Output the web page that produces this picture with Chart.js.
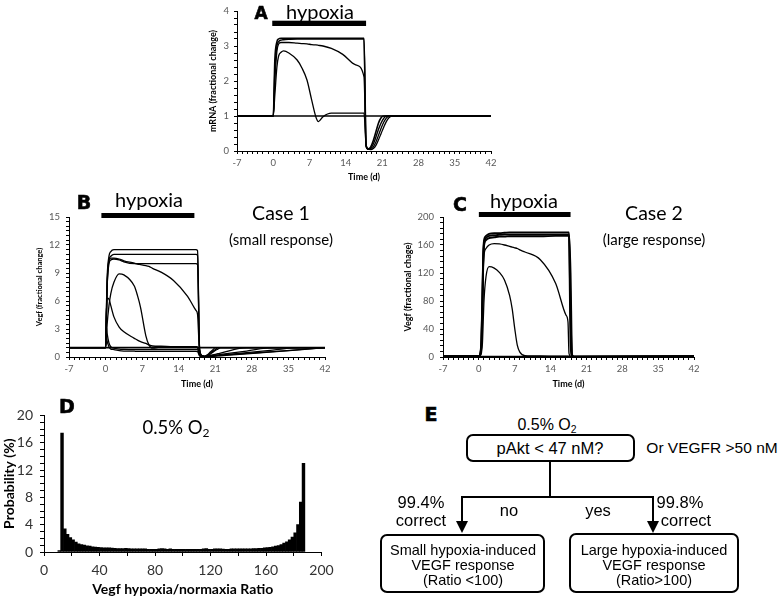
<!DOCTYPE html>
<html>
<head>
<meta charset="utf-8">
<script src="https://cdn.jsdelivr.net/npm/chart.js@4.4.0/dist/chart.umd.min.js"></script>
<style>
body { margin: 0; background: #fff; }
#page { position: relative; width: 778px; height: 598px; overflow: hidden; font-family: Lato, sans-serif; }
canvas { position: absolute; }
.t { position: absolute; transform: translate(-50%, -50%); white-space: nowrap; color: #000; line-height: 1; }
.lt { font-family: "DejaVu Sans", sans-serif; font-weight: 900; font-size: 19px; -webkit-text-stroke: 0.6px #000; }
.ar { font-family: "Liberation Sans", Arial, sans-serif; }
.box { position: absolute; box-sizing: border-box; border: 2px solid #000; border-radius: 7px; }
sub { font-size: 0.65em; vertical-align: -0.25em; }
</style>
</head>
<body>
<div id="page">
  <canvas id="chartA" width="310" height="185" style="left:195px;top:0px"></canvas>
  <canvas id="chartB" width="320" height="190" style="left:20px;top:200px"></canvas>
  <canvas id="chartC" width="320" height="190" style="left:390px;top:200px"></canvas>
  <canvas id="chartD" width="340" height="198" style="left:0px;top:400px"></canvas>

  <div class="t lt" style="left:261px;top:13px;font-size:17px">A</div>
  <div class="t" style="left:320px;top:11px;font-size:20px">hypoxia</div>

  <div class="t lt" style="left:84px;top:202px">B</div>
  <div class="t" style="left:149px;top:199px;font-size:20px">hypoxia</div>
  <div class="t" style="left:281px;top:213px;font-size:19.5px">Case 1</div>
  <div class="t" style="left:281px;top:239px;font-size:15px">(small response)</div>

  <div class="t lt" style="left:460px;top:204px">C</div>
  <div class="t" style="left:524px;top:200px;font-size:20px">hypoxia</div>
  <div class="t" style="left:654px;top:213px;font-size:19.5px">Case 2</div>
  <div class="t" style="left:654px;top:239px;font-size:15px">(large response)</div>

  <div class="t lt" style="left:67px;top:406px">D</div>
  <div class="t" style="left:176px;top:429px;font-size:18.5px">0.5% O<sub>2</sub></div>

  <div class="t lt" style="left:431px;top:414px">E</div>
  <div class="t ar" style="left:547px;top:426px;font-size:16px">0.5% O<sub>2</sub></div>
  <div class="box" style="left:466px;top:434px;width:169px;height:28px"></div>
  <div class="t ar" style="left:550px;top:448px;font-size:16.5px">pAkt &lt; 47 nM?</div>
  <div class="t ar" style="left:712px;top:448px;font-size:15.5px">Or VEGFR &gt;50 nM</div>
  <svg style="position:absolute;left:0;top:0" width="778" height="598">
    <g stroke="#000" stroke-width="2" fill="none">
      <line x1="550" y1="462" x2="550" y2="497"/>
      <line x1="461" y1="497" x2="654" y2="497"/>
      <line x1="462" y1="496" x2="462" y2="522"/>
      <line x1="653" y1="496" x2="653" y2="522"/>
    </g>
    <polygon points="456,521 468,521 462,533" fill="#000"/>
    <polygon points="647,521 659,521 653,533" fill="#000"/>
  </svg>
  <div class="t ar" style="left:421px;top:502px;font-size:16.5px">99.4%</div>
  <div class="t ar" style="left:421px;top:520px;font-size:16.5px">correct</div>
  <div class="t ar" style="left:509px;top:510px;font-size:16.5px">no</div>
  <div class="t ar" style="left:598px;top:510px;font-size:16.5px">yes</div>
  <div class="t ar" style="left:680px;top:502px;font-size:16.5px">99.8%</div>
  <div class="t ar" style="left:686px;top:520px;font-size:16.5px">correct</div>
  <div class="box" style="left:380px;top:534px;width:165px;height:59px"></div>
  <div class="t ar" style="left:463px;top:550px;font-size:14.5px">Small hypoxia-induced</div>
  <div class="t ar" style="left:463px;top:565px;font-size:14.5px">VEGF response</div>
  <div class="t ar" style="left:463px;top:580px;font-size:14.5px">(Ratio &lt;100)</div>
  <div class="box" style="left:569px;top:533px;width:170px;height:60px"></div>
  <div class="t ar" style="left:654px;top:550px;font-size:14.5px">Large hypoxia-induced</div>
  <div class="t ar" style="left:654px;top:565px;font-size:14.5px">VEGF response</div>
  <div class="t ar" style="left:654px;top:580px;font-size:14.5px">(Ratio&gt;100)</div>
</div>
<script>
// ---- panel A: mRNA fractional change vs time (d) ----
var tA = [-7, 0, 0.3, 0.7, 1, 1.5, 2, 3, 4.6, 5.5, 6.5, 7.4, 8.2, 8.7, 9.6, 11.2, 13.4, 15.9, 17.5, 17.9, 18.3, 18.8, 19.3, 19.8, 20.3, 20.8, 21.3, 21.8, 22.3, 22.8, 23.3, 42];
var mrna1 = [1, 1, 2.6, 3.12, 3.2, 3.22, 3.22, 3.22, 3.22, 3.22, 3.22, 3.22, 3.22, 3.22, 3.22, 3.22, 3.22, 3.22, 3.22, 0.15, 0.06, 0.12, 0.3, 0.55, 0.8, 0.95, 1, 1, 1, 1, 1, 1];
var mrna2 = [1, 1, 2.3, 3.0, 3.12, 3.17, 3.18, 3.19, 3.2, 3.2, 3.2, 3.2, 3.2, 3.2, 3.2, 3.2, 3.2, 3.2, 3.2, 0.15, 0.05, 0.08, 0.2, 0.4, 0.62, 0.8, 0.93, 1, 1, 1, 1, 1];
var mrna3 = [1, 1, 2.0, 2.85, 3.05, 3.1, 3.1, 3.1, 3.08, 3.07, 3.06, 3.04, 3.03, 3.02, 3.0, 2.93, 2.76, 2.46, 2.12, 0.18, 0.05, 0.05, 0.12, 0.26, 0.45, 0.65, 0.82, 0.94, 1, 1, 1, 1];
var mrna4 = [1, 1, 1.6, 2.4, 2.7, 2.82, 2.86, 2.8, 2.6, 2.38, 2.03, 1.46, 0.98, 0.84, 0.98, 1.08, 1.08, 1.08, 1.08, 0.18, 0.05, 0.04, 0.07, 0.16, 0.32, 0.5, 0.68, 0.84, 0.95, 1, 1, 1];

// ---- panel B: Vegf, case 1 (small response) ----
var tB = [-7, 0, 0.15, 0.3, 0.65, 1, 1.6, 2.6, 3.5, 5.5, 6.1, 6.7, 7.7, 8.3, 9, 10.6, 13, 15.7, 17.3, 17.6, 18, 18.5, 19, 19.5, 20, 20.5, 21, 21.5, 22, 27, 32, 37, 42];
var vegfB1 = [1, 1, 5, 8.5, 10.8, 11.3, 11.5, 11.5, 11.5, 11.5, 11.5, 11.5, 11.5, 11.5, 11.5, 11.5, 11.5, 11.5, 11.5, 11.4, 0.8, 0.15, 0.1, 0.25, 0.5, 0.75, 1, 1, 1, 1, 1, 1, 1];
var vegfB2 = [1, 1, 4.5, 8, 10.4, 10.8, 11.0, 11.0, 11.0, 11.0, 11.0, 11.0, 11.0, 11.0, 11.0, 11.0, 11.0, 11.0, 11.0, 10.9, 0.8, 0.12, 0.08, 0.2, 0.4, 0.6, 0.8, 1, 1, 1, 1, 1, 1];
var vegfB3 = [1, 1, 4, 7.5, 10, 10.4, 10.5, 10.4, 10.2, 10.0, 10.0, 10.0, 10.0, 10.0, 10.0, 10.0, 10.0, 10.0, 10.0, 9.9, 0.8, 0.1, 0.05, 0.12, 0.3, 0.5, 0.7, 0.85, 1, 1, 1, 1, 1];
var vegfB4 = [1, 1, 4, 7.5, 10.3, 10.6, 10.6, 10.5, 10.3, 10.05, 9.95, 9.9, 9.8, 9.7, 9.5, 9.1, 8.2, 6.5, 5.0, 4.6, 0.5, 0.1, 0.05, 0.11, 0.17, 0.23, 0.29, 0.35, 0.41, 1, 1, 1, 1];
var vegfB5 = [1, 1, 2, 3.5, 5.5, 6.8, 8.0, 8.9, 8.8, 7.6, 6.6, 5.3, 2.3, 1.3, 0.95, 1.08, 1.1, 1.1, 1.1, 1.05, 0.3, 0.08, 0.05, 0.09, 0.12, 0.16, 0.2, 0.23, 0.27, 0.64, 1, 1, 1];
var vegfB6 = [1, 1, 4.5, 6.3, 6.2, 5.5, 4.3, 3.2, 2.7, 2.0, 1.8, 1.65, 1.45, 1.3, 1.18, 1.15, 1.1, 1.1, 1.1, 1.05, 0.3, 0.08, 0.05, 0.08, 0.1, 0.13, 0.16, 0.18, 0.21, 0.47, 0.74, 1, 1];
var vegfB7 = [1, 1, 3.2, 2.5, 1.5, 1.1, 0.95, 0.85, 0.82, 0.8, 0.8, 0.8, 0.8, 0.8, 0.8, 0.8, 0.8, 0.8, 0.8, 0.78, 0.2, 0.06, 0.04, 0.06, 0.08, 0.1, 0.12, 0.15, 0.17, 0.38, 0.58, 0.79, 1];
var vegfB8 = [1, 1, 2.2, 1.7, 1.1, 0.85, 0.8, 0.68, 0.64, 0.62, 0.6, 0.6, 0.6, 0.6, 0.6, 0.6, 0.6, 0.6, 0.6, 0.58, 0.1, 0.03, 0.02, 0.03, 0.05, 0.07, 0.09, 0.11, 0.13, 0.33, 0.54, 0.76, 1];

// ---- panel C: Vegf, case 2 (large response) ----
var tC = [-7, 0, 0.3, 0.5, 0.7, 0.85, 1, 1.4, 2, 3, 4, 5, 6, 6.5, 7, 7.5, 8, 9, 12, 15, 17, 17.4, 17.6, 17.9, 18.2, 18.6, 42];
var vegfC1 = [1, 1, 6, 25, 90, 145, 166, 173, 176, 177, 177, 177.5, 178, 178, 178, 178, 178, 178, 178, 178, 178, 178, 178, 120, 3, 0.5, 1];
var vegfC2 = [1, 1, 5, 22, 85, 140, 162, 170, 173, 174, 174.5, 175, 175, 175, 175, 175, 175, 175, 175, 175, 175, 175, 175, 60, 1, 0.5, 1];
var vegfC3 = [1, 1, 4, 18, 75, 132, 158, 167, 170, 171, 172, 172, 172.5, 172.5, 172.5, 172.5, 172.5, 172.5, 172.5, 173, 173, 173, 172, 20, 1, 0.5, 1];
var vegfC4 = [1, 1, 4, 16, 65, 120, 145, 155, 160, 162, 161.5, 160, 158, 157, 156, 155, 153, 150, 139, 105, 60, 50, 5, 1, 0.5, 0.5, 1];
var vegfC5 = [1, 1, 2, 6, 20, 50, 80, 115, 129, 127, 121, 110, 88, 69, 41, 17, 7, 2, 1.5, 1.2, 1.1, 1.1, 1, 0.5, 0.3, 0.3, 1];

// normoxic baseline and hypoxia periods (days)
var baseDays = [-7, 42];
var baseLevel = [1, 1];
var hypoxiaA = [-0.2, 17.9];
var hypoxiaB = [-0.8, 17];
var hypoxiaC = [0, 17.9];

// ---- panel D: histogram of Vegf hypoxia/normoxia ratio ----
var ratioBins = [11, 13, 15, 17, 19, 21, 23, 25, 27, 29, 31, 33, 35, 37, 39, 41, 43, 45, 47, 49,
    51, 53, 55, 57, 59, 61, 63, 65, 67, 69, 71, 73, 75, 77, 79, 81, 83, 85, 87, 89,
    91, 93, 95, 97, 99, 101, 103, 105, 107, 109, 111, 113, 115, 117, 119, 121, 123, 125, 127, 129,
    131, 133, 135, 137, 139, 141, 143, 145, 147, 149, 151, 153, 155, 157, 159, 161, 163, 165, 167, 169,
    171, 173, 175, 177, 179, 181, 183, 185, 187];
var probability = [0.2, 17.4, 3.4, 2.6, 2.1, 1.8, 1.45, 1.2, 1.1, 1.0,
    0.9, 0.85, 0.75, 0.72, 0.7, 0.65, 0.62, 0.6, 0.6, 0.58,
    0.55, 0.5, 0.5, 0.5, 0.55, 0.5, 0.48, 0.48, 0.48, 0.45,
    0.45, 0.45, 0.4, 0.4, 0.4, 0.4, 0.45, 0.5, 0.45, 0.4,
    0.45, 0.4, 0.4, 0.4, 0.4, 0.4, 0.4, 0.4, 0.4, 0.4,
    0.4, 0.4, 0.45, 0.5, 0.4, 0.4, 0.45, 0.45, 0.45, 0.42,
    0.4, 0.4, 0.45, 0.45, 0.45, 0.45, 0.45, 0.45, 0.45, 0.45,
    0.5, 0.5, 0.55, 0.55, 0.6, 0.65, 0.7, 0.75, 0.85, 0.95,
    1.1, 1.3, 1.5, 1.8, 2.2, 2.8, 4.0, 7.3, 13.0];

Chart.defaults.font.family = 'Lato, sans-serif';
Chart.defaults.animation = false;

function pts(t, v) {
    var out = [];
    for (var i = 0; i < t.length; i++) {
        out.push({ x: t[i], y: v[i] });
    }
    return out;
}

function curve(t, v, w) {
    return {
        data: pts(t, v),
        borderColor: '#000',
        borderWidth: w || 1.3,
        pointRadius: 0,
        fill: false,
        cubicInterpolationMode: 'monotone'
    };
}

function axis(o) {
    return {
        type: 'linear',
        min: o.min,
        max: o.max,
        offset: false,
        border: { display: true, color: '#000', width: 1 },
        grid: { display: true, drawOnChartArea: false, drawTicks: true, tickLength: o.tick || 3, color: '#000', offset: false },
        ticks: {
            stepSize: o.step,
            autoSkip: false,
            maxRotation: 0,
            padding: o.pad,
            color: o.color || '#595959',
            font: { size: o.font || 9.5 },
            callback: function (v) {
                var r = Math.abs(v / o.every - Math.round(v / o.every));
                return r < 1e-6 ? v : '';
            }
        },
        title: {
            display: true,
            text: o.title,
            color: '#000',
            font: { size: o.titleFont || 9, weight: 'bold' },
            padding: { top: o.titleTop || 0, bottom: o.titleBottom || 0 }
        },
        afterFit: function (s) {
            if (s.isHorizontal()) {
                s.height = o.size;
            } else {
                s.width = o.size;
            }
        }
    };
}

var hypoxiaBarPlugin = {
    id: 'hypoxiaBar',
    afterDatasetsDraw: function (chart, args, opts) {
        if (!opts || !opts.days) return;
        var x = chart.scales.x;
        var ctx = chart.ctx;
        var x0 = x.getPixelForValue(opts.days[0]);
        var x1 = x.getPixelForValue(opts.days[1]);
        ctx.save();
        ctx.fillStyle = '#000';
        ctx.fillRect(x0, chart.chartArea.top + opts.dy, x1 - x0, opts.h);
        ctx.restore();
    }
};

function timeChart(id, sets, xOpt, yOpt, hyp, pad) {
    return new Chart(document.getElementById(id), {
        type: 'line',
        data: { datasets: sets },
        plugins: [hypoxiaBarPlugin],
        options: {
            responsive: false,
            events: [],
            layout: { padding: pad },
            plugins: {
                legend: { display: false },
                tooltip: { enabled: false },
                hypoxiaBar: hyp
            },
            scales: { x: xOpt, y: yOpt }
        }
    });
}

// A
timeChart('chartA', [
    curve(baseDays, baseLevel, 1.4),
    curve(tA, mrna1, 1.6),
    curve(tA, mrna2, 1.4),
    curve(tA, mrna3, 1.3),
    curve(tA, mrna4, 1.3)
], axis({ min: -7, max: 42, step: 1, every: 7, pad: 3.3, size: 34, title: 'Time (d)', titleBottom: 2.6 }),
    axis({ min: 0, max: 4, step: 0.2, every: 1, pad: 5, size: 42, title: 'mRNA (fractional change)', titleTop: 12.6 }),
    { days: hypoxiaA, dy: 9.7, h: 5.3 }, { top: 11, right: 14 });

// B
timeChart('chartB', [
    curve(baseDays, baseLevel, 1.7),
    curve(tB, vegfB1),
    curve(tB, vegfB2),
    curve(tB, vegfB3),
    curve(tB, vegfB4),
    curve(tB, vegfB5),
    curve(tB, vegfB6),
    curve(tB, vegfB7),
    curve(tB, vegfB8)
], axis({ min: -7, max: 42, step: 1, every: 7, pad: 3.3, size: 33, title: 'Time (d)', titleBottom: 1 }),
    axis({ min: 0, max: 15, step: 0.5, every: 3, pad: 6, size: 49, title: 'Vegf (fractional change)', titleFont: 7.5, titleTop: 14.8 }),
    { days: hypoxiaB, dy: -4, h: 5 }, { top: 17, right: 15 });

// C
timeChart('chartC', [
    curve(baseDays, baseLevel, 1.2),
    curve(tC, vegfC1, 1.9),
    curve(tC, vegfC2, 1.9),
    curve(tC, vegfC3, 1.9),
    curve(tC, vegfC4, 1.3),
    curve(tC, vegfC5, 1.3)
], axis({ min: -7, max: 42, step: 1, every: 7, pad: 3.3, size: 33, title: 'Time (d)', titleBottom: 1 }),
    axis({ min: 0, max: 200, step: 8, every: 40, pad: 6, size: 53, title: 'Vegf (fractional chage)', titleTop: 12.9 }),
    { days: hypoxiaC, dy: -5, h: 5 }, { top: 17, right: 16 });

// D
new Chart(document.getElementById('chartD'), {
    type: 'bar',
    data: {
        datasets: [{
            data: pts(ratioBins, probability),
            backgroundColor: '#000',
            borderWidth: 0,
            barPercentage: 1,
            categoryPercentage: 1
        }]
    },
    options: {
        responsive: false,
        events: [],
        layout: { padding: { top: 9, right: 18 } },
        plugins: { legend: { display: false }, tooltip: { enabled: false } },
        scales: {
            x: axis({ min: 0, max: 200, step: 20, every: 40, pad: 6.3, tick: 4, size: 46, color: '#333', font: 14,
                title: 'Vegf hypoxia/normaxia Ratio', titleFont: 14, titleBottom: 0.3 }),
            y: axis({ min: 0, max: 20, step: 1, every: 4, pad: 7, tick: 4, size: 44, color: '#333', font: 14,
                title: 'Probability (%)', titleFont: 14, titleTop: 1 })
        }
    }
});
</script>
</body>
</html>
